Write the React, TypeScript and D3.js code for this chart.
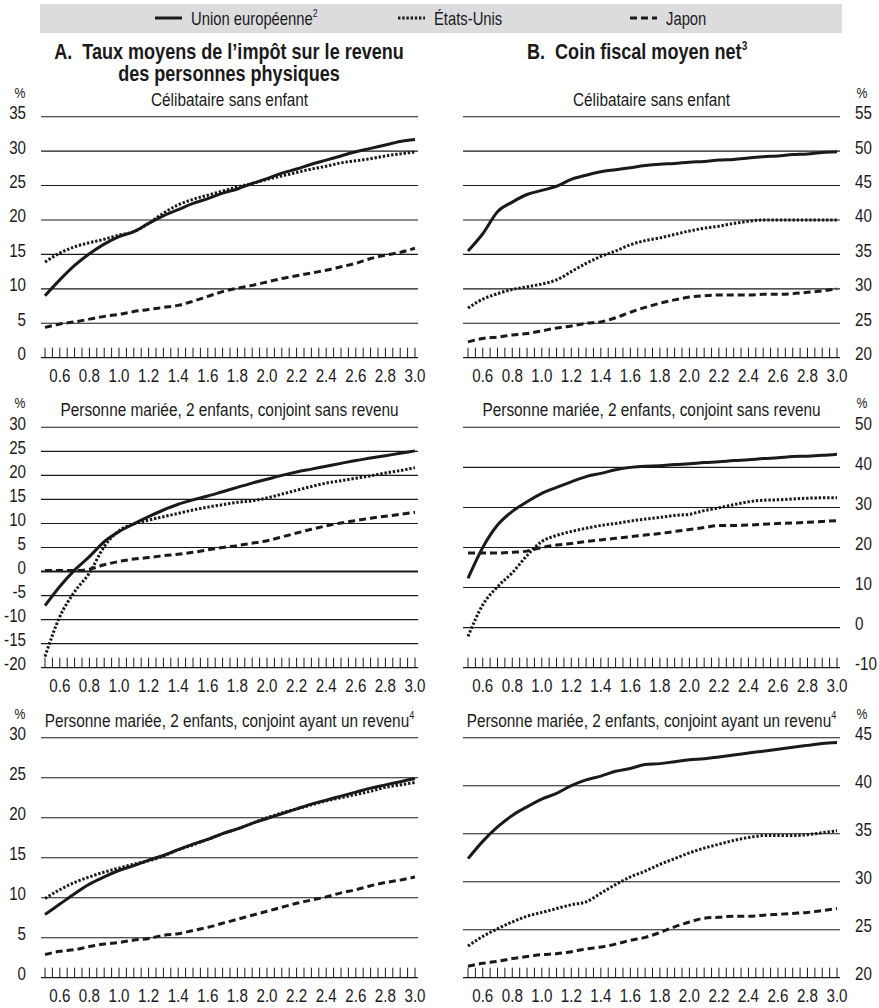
import React, { useEffect, useRef } from 'react';
import * as d3 from 'd3';

// income level as a multiple of the average wage
const incomes = [0.5, 0.6, 0.7, 0.8, 0.9, 1.0, 1.1, 1.2, 1.3, 1.4, 1.5, 1.6, 1.7, 1.8, 1.9, 2.0, 2.1, 2.2, 2.3, 2.4, 2.5, 2.6, 2.7, 2.8, 2.9, 3.0];
const xTickLabels = ['0.6', '0.8', '1.0', '1.2', '1.4', '1.6', '1.8', '2.0', '2.2', '2.4', '2.6', '2.8', '3.0'];

const seriesNames = ['Union européenne', 'États-Unis', 'Japon'];
const seriesNotes = ['2', '', ''];

// A. impôt sur le revenu — célibataire
const euSingleA = [9.0, 11.3, 13.4, 15.1, 16.5, 17.6, 18.3, 19.5, 20.6, 21.5, 22.4, 23.1, 23.9, 24.5, 25.3, 26.0, 26.8, 27.4, 28.1, 28.7, 29.3, 29.9, 30.4, 30.9, 31.4, 31.7];
const usSingleA = [13.9, 15.2, 16.1, 16.7, 17.2, 17.8, 18.3, 19.5, 21.0, 22.2, 23.0, 23.6, 24.2, 24.8, 25.3, 25.9, 26.4, 26.9, 27.4, 27.8, 28.3, 28.6, 28.9, 29.3, 29.6, 29.9];
const jpSingleA = [4.4, 4.9, 5.2, 5.6, 6.0, 6.3, 6.7, 7.0, 7.3, 7.6, 8.2, 8.9, 9.6, 10.1, 10.5, 11.0, 11.5, 11.9, 12.3, 12.7, 13.2, 13.7, 14.4, 14.9, 15.3, 15.9];

// B. coin fiscal — célibataire
const euSingleB = [35.5, 38.0, 41.2, 42.6, 43.7, 44.3, 44.9, 45.9, 46.5, 47.0, 47.3, 47.6, 47.9, 48.1, 48.2, 48.4, 48.5, 48.7, 48.8, 49.0, 49.2, 49.3, 49.5, 49.6, 49.8, 49.9];
const usSingleB = [27.2, 28.5, 29.3, 29.9, 30.3, 30.7, 31.3, 32.5, 33.7, 34.7, 35.5, 36.4, 37.0, 37.4, 37.9, 38.4, 38.8, 39.1, 39.5, 39.8, 40.0, 40.0, 40.0, 40.0, 40.0, 40.0];
const jpSingleB = [22.3, 22.8, 23.0, 23.3, 23.5, 23.9, 24.3, 24.6, 25.0, 25.2, 25.8, 26.6, 27.3, 27.9, 28.4, 28.8, 29.0, 29.1, 29.1, 29.1, 29.2, 29.2, 29.3, 29.5, 29.7, 30.0];

// A. marié, conjoint sans revenu
const euOneEarnerA = [-7.1, -3.1, 0.3, 3.1, 6.2, 8.3, 9.9, 11.4, 12.8, 14.0, 14.9, 15.7, 16.6, 17.5, 18.4, 19.2, 20.0, 20.7, 21.3, 21.9, 22.5, 23.1, 23.6, 24.1, 24.6, 25.1];
const usOneEarnerA = [-17.7, -9.4, -4.2, -0.3, 5.2, 8.5, 9.9, 10.7, 11.4, 12.1, 12.8, 13.4, 13.9, 14.4, 14.7, 15.3, 16.1, 16.9, 17.7, 18.4, 18.9, 19.4, 19.9, 20.5, 21.0, 21.6];
const jpOneEarnerA = [0.2, 0.2, 0.2, 0.5, 1.4, 2.1, 2.6, 2.9, 3.3, 3.6, 4.0, 4.5, 5.0, 5.4, 5.9, 6.4, 7.2, 8.0, 8.8, 9.5, 10.1, 10.6, 11.1, 11.5, 11.9, 12.3];

// B. marié, conjoint sans revenu
const euOneEarnerB = [12.3, 20.0, 25.6, 29.0, 31.4, 33.5, 35.0, 36.4, 37.7, 38.5, 39.4, 40.0, 40.3, 40.4, 40.7, 40.9, 41.2, 41.4, 41.7, 41.9, 42.2, 42.4, 42.7, 42.8, 43.0, 43.3];
const usOneEarnerB = [-2.2, 5.7, 10.2, 13.7, 18.0, 21.5, 23.0, 24.0, 24.8, 25.5, 26.0, 26.6, 27.1, 27.5, 28.0, 28.3, 29.2, 29.9, 30.7, 31.4, 31.8, 31.9, 32.1, 32.3, 32.4, 32.4];
const jpOneEarnerB = [18.6, 18.6, 18.6, 18.8, 19.1, 20.0, 20.6, 21.0, 21.5, 21.9, 22.3, 22.7, 23.1, 23.5, 24.0, 24.5, 25.0, 25.5, 25.5, 25.6, 25.8, 26.0, 26.1, 26.3, 26.5, 26.7];

// A. marié, conjoint ayant un revenu
const euTwoEarnerA = [7.9, 9.2, 10.5, 11.7, 12.6, 13.4, 14.0, 14.7, 15.3, 16.0, 16.7, 17.3, 18.0, 18.6, 19.3, 19.9, 20.5, 21.1, 21.7, 22.2, 22.7, 23.2, 23.7, 24.1, 24.5, 24.9];
const usTwoEarnerA = [9.9, 11.0, 11.9, 12.6, 13.2, 13.7, 14.2, 14.6, 15.2, 16.0, 16.6, 17.3, 18.0, 18.6, 19.3, 20.0, 20.6, 21.1, 21.6, 22.1, 22.5, 22.9, 23.3, 23.8, 24.1, 24.4];
const jpTwoEarnerA = [2.9, 3.3, 3.5, 3.9, 4.2, 4.4, 4.7, 4.9, 5.3, 5.5, 5.9, 6.3, 6.8, 7.3, 7.8, 8.3, 8.8, 9.3, 9.7, 10.1, 10.6, 11.0, 11.5, 11.9, 12.2, 12.6];

// B. marié, conjoint ayant un revenu
const euTwoEarnerB = [32.4, 34.2, 35.7, 36.9, 37.8, 38.6, 39.2, 40.0, 40.6, 41.0, 41.5, 41.8, 42.2, 42.3, 42.5, 42.7, 42.8, 43.0, 43.2, 43.4, 43.6, 43.8, 44.0, 44.2, 44.4, 44.5];
const usTwoEarnerB = [23.3, 24.3, 25.1, 25.8, 26.4, 26.8, 27.2, 27.6, 27.9, 28.8, 29.7, 30.5, 31.1, 31.8, 32.4, 33.0, 33.5, 33.9, 34.3, 34.6, 34.8, 34.8, 34.8, 34.9, 35.1, 35.3];
const jpTwoEarnerB = [21.2, 21.5, 21.7, 22.0, 22.2, 22.4, 22.5, 22.7, 23.0, 23.2, 23.5, 23.9, 24.2, 24.7, 25.3, 25.8, 26.2, 26.3, 26.4, 26.4, 26.5, 26.6, 26.7, 26.8, 27.0, 27.2];

const yTicksA1 = [0, 5, 10, 15, 20, 25, 30, 35];
const yTicksB1 = [20, 25, 30, 35, 40, 45, 50, 55];
const yTicksA2 = [-20, -15, -10, -5, 0, 5, 10, 15, 20, 25, 30];
const yTicksB2 = [-10, 0, 10, 20, 30, 40, 50];
const yTicksA3 = [0, 5, 10, 15, 20, 25, 30];
const yTicksB3 = [20, 25, 30, 35, 40, 45];

const subtitles = [
  ['Célibataire sans enfant', ''],
  ['Personne mariée, 2 enfants, conjoint sans revenu', ''],
  ['Personne mariée, 2 enfants, conjoint ayant un revenu', '4'],
];

// no condensed font installed, so text is squeezed horizontally
const FONT = '"Liberation Sans", Arial, sans-serif';
const SX = 0.82;
const INK = '#1a1a1a';
const dashes = [null, '2.4,1.8', '7,4'];

const squeeze = (x: number, y: number, sx = SX) => `translate(${x},${y}) scale(${sx},1)`;

export default function App() {
  const svgRef = useRef<SVGSVGElement>(null);

  useEffect(() => {
    const svg = d3.select(svgRef.current);
    svg.selectAll('*').remove();

    const label = (parent, x, y, txt, size, anchor = 'start', sx = SX) =>
      parent.append('text')
        .attr('transform', squeeze(x, y, sx))
        .attr('text-anchor', anchor)
        .attr('font-family', FONT).attr('font-size', size).attr('fill', INK)
        .style('white-space', 'pre')
        .text(txt);

    // legend band
    svg.append('rect').attr('x', 40).attr('y', 4).attr('width', 802).attr('height', 29).attr('fill', '#dcdcde');
    const legendX = [155, 398, 630];
    legendX.forEach((lx, i) => {
      svg.append('line')
        .attr('x1', lx).attr('x2', lx + 27).attr('y1', 18).attr('y2', 18)
        .attr('stroke', INK).attr('stroke-width', 3)
        .attr('stroke-dasharray', dashes[i]);
      const t = label(svg, lx + 36, 24.5, seriesNames[i], 18.5, 'start', 0.8);
      if (seriesNotes[i]) t.append('tspan').attr('dy', -8).attr('font-size', 11).text(seriesNotes[i]);
    });

    // panel titles
    const title = (x, y, anchor, txt, note?) => {
      const t = label(svg, x, y, txt, 21.5, anchor, 0.84).attr('font-weight', 'bold');
      if (note) t.append('tspan').attr('dy', -9).attr('font-size', 12).text(note);
    };
    title(229, 59, 'middle', 'A.  Taux moyens de l’impôt sur le revenu');
    title(229, 81, 'middle', 'des personnes physiques');
    title(527, 59, 'start', 'B.  Coin fiscal moyen net', '3');

    const rows = [
      { top: 116.7, bottom: 357.7 },
      { top: 427.3, bottom: 667.7 },
      { top: 737.7, bottom: 977.7 },
    ];
    const cols = [
      { x0: 41, x1: 418, d0: 45, d1: 415, side: 'left' },
      { x0: 463, x1: 840, d0: 468, d1: 837, side: 'right' },
    ];

    const panels = [
      { row: 0, col: 0, ticks: yTicksA1, series: [euSingleA, usSingleA, jpSingleA] },
      { row: 0, col: 1, ticks: yTicksB1, series: [euSingleB, usSingleB, jpSingleB] },
      { row: 1, col: 0, ticks: yTicksA2, series: [euOneEarnerA, usOneEarnerA, jpOneEarnerA], zero: true },
      { row: 1, col: 1, ticks: yTicksB2, series: [euOneEarnerB, usOneEarnerB, jpOneEarnerB] },
      { row: 2, col: 0, ticks: yTicksA3, series: [euTwoEarnerA, usTwoEarnerA, jpTwoEarnerA] },
      { row: 2, col: 1, ticks: yTicksB3, series: [euTwoEarnerB, usTwoEarnerB, jpTwoEarnerB] },
    ];

    panels.forEach(p => {
      const r = rows[p.row];
      const c = cols[p.col];
      const g = svg.append('g');

      const x = d3.scaleLinear().domain([0.5, 3.0]).range([c.d0, c.d1]);
      const y = d3.scaleLinear()
        .domain([p.ticks[0], p.ticks[p.ticks.length - 1]])
        .range([r.bottom, r.top]);

      // subtitle and % unit
      const st = subtitles[p.row];
      const sub = label(g, (c.x0 + c.x1) / 2, r.top - 11, st[0], 18.5, 'middle', 0.83);
      if (st[1]) sub.append('tspan').attr('dy', -8).attr('font-size', 11).text(st[1]);

      label(g, c.side === 'left' ? 20 : 862, r.top - 19, '%', 15, 'middle');

      // gridlines
      g.selectAll('.grid')
        .data(p.ticks.slice(1))
        .enter()
        .append('line')
        .attr('x1', c.x0).attr('x2', c.x1)
        .attr('y1', d => y(d)).attr('y2', d => y(d))
        .attr('stroke', INK)
        .attr('stroke-width', d => (p.zero && d === 0 ? 2 : 1.1));

      // y labels
      g.selectAll('.ylab')
        .data(p.ticks)
        .enter()
        .append('text')
        .attr('transform', d => squeeze(c.side === 'left' ? 26 : 855, y(d) + 2.5))
        .attr('text-anchor', c.side === 'left' ? 'end' : 'start')
        .attr('font-family', FONT).attr('font-size', 18.5).attr('fill', INK)
        .text(d => String(d));

      // x axis: baseline with small upward ticks every 0.05
      g.append('line').attr('x1', c.x0).attr('x2', c.x1)
        .attr('y1', r.bottom).attr('y2', r.bottom)
        .attr('stroke', INK).attr('stroke-width', 1.2);
      g.selectAll('.xtick')
        .data(d3.range(0, 51).map(i => 0.5 + i * 0.05))
        .enter()
        .append('line')
        .attr('x1', d => x(d)).attr('x2', d => x(d))
        .attr('y1', r.bottom).attr('y2', r.bottom - 10)
        .attr('stroke', INK).attr('stroke-width', 1);
      g.selectAll('.xlab')
        .data(xTickLabels)
        .enter()
        .append('text')
        .attr('transform', d => squeeze(x(+d), r.bottom + 24.5))
        .attr('text-anchor', 'middle')
        .attr('font-family', FONT).attr('font-size', 18.5).attr('fill', INK)
        .text(d => d);

      // series lines
      const line = d3.line<number>()
        .x((d, i) => x(incomes[i]))
        .y(d => y(d))
        .curve(d3.curveMonotoneX);

      p.series.forEach((s, i) => {
        g.append('path')
          .attr('d', line(s))
          .attr('fill', 'none')
          .attr('stroke', INK)
          .attr('stroke-width', 3)
          .attr('stroke-dasharray', dashes[i]);
      });
    });
  }, []);

  return (
    <svg ref={svgRef} width={879} height={1008}
      style={{ position: 'absolute', left: 0, top: 0, background: '#fff' }} />
  );
}
